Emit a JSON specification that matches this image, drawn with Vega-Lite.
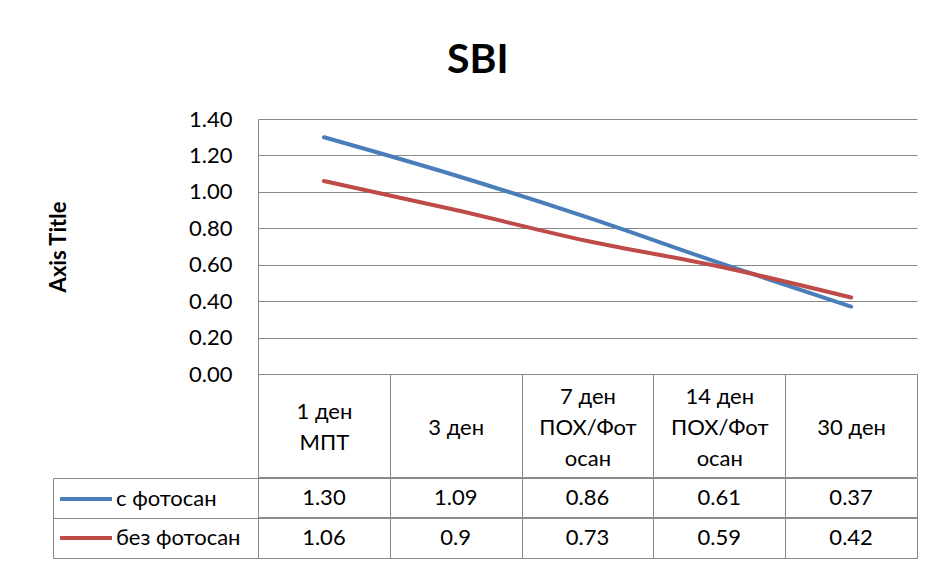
{
  "$schema": "https://vega.github.io/schema/vega-lite/v6.json",
  "padding": {"left": 47, "top": 40, "right": 5, "bottom": 0},
  "background": "white",
  "title": {"text": "SBI", "font": "Lato", "fontSize": 41, "fontWeight": "bold", "color": "#000000", "anchor": "middle", "offset": 26, "dx": -5},
  "datasets": {
    "points": [
      {"category": "1 ден\nМПТ", "series": "с фотосан", "value": 1.30, "label": "1.30"},
      {"category": "3 ден", "series": "с фотосан", "value": 1.09, "label": "1.09"},
      {"category": "7 ден\nПОХ/Фот\nосан", "series": "с фотосан", "value": 0.86, "label": "0.86"},
      {"category": "14 ден\nПОХ/Фот\nосан", "series": "с фотосан", "value": 0.61, "label": "0.61"},
      {"category": "30 ден", "series": "с фотосан", "value": 0.37, "label": "0.37"},
      {"category": "1 ден\nМПТ", "series": "без фотосан", "value": 1.06, "label": "1.06"},
      {"category": "3 ден", "series": "без фотосан", "value": 0.90, "label": "0.9"},
      {"category": "7 ден\nПОХ/Фот\nосан", "series": "без фотосан", "value": 0.73, "label": "0.73"},
      {"category": "14 ден\nПОХ/Фот\nосан", "series": "без фотосан", "value": 0.59, "label": "0.59"},
      {"category": "30 ден", "series": "без фотосан", "value": 0.42, "label": "0.42"}
    ]
  },
  "spacing": -8,
  "resolve": {"legend": {"color": "independent"}},
  "vconcat": [
    {
      "width": 659,
      "height": 255,
      "view": {"stroke": null},
      "data": {"name": "points"},
      "mark": {"type": "line", "strokeWidth": 4, "interpolate": "monotone", "strokeCap": "round"},
      "encoding": {
        "x": {
          "field": "category", "type": "nominal", "bandPosition": 0.5,
          "sort": ["1 ден\nМПТ", "3 ден", "7 ден\nПОХ/Фот\nосан", "14 ден\nПОХ/Фот\nосан", "30 ден"],
          "scale": {"type": "band", "paddingInner": 0, "paddingOuter": 0},
          "axis": {
            "title": null, "domain": true, "domainColor": "#888888", "ticks": true, "tickBand": "extent",
            "tickSize": 103, "tickColor": "#888888", "labelAngle": 0, "labelFontSize": 22, "labelColor": "#000000",
            "labelBaseline": "middle", "labelPadding": -81,
            "labelExpr": "length(split(datum.label, '\\n')) == 1 ? ['\u200b', '\u200b', datum.label] : length(split(datum.label, '\\n')) == 2 ? ['\u200b', split(datum.label, '\\n')[0], '\u200b', split(datum.label, '\\n')[1]] : [split(datum.label, '\\n')[0], '\u200b', split(datum.label, '\\n')[1], '\u200b', split(datum.label, '\\n')[2]]",
            "labelLineHeight": 15.5, "labelOverlap": false, "labelLimit": 300, "grid": false
          }
        },
        "y": {
          "field": "value", "type": "quantitative",
          "scale": {"domain": [0, 1.4], "nice": false, "zero": true},
          "axis": {
            "title": "Axis Title", "values": [0, 0.2, 0.4, 0.6, 0.8, 1.0, 1.2, 1.4], "format": ".2f",
            "grid": true, "gridColor": "#888888", "domain": true, "domainColor": "#888888", "ticks": false,
            "labelPadding": 26, "labelFontSize": 22, "labelColor": "#000000",
            "titleFontSize": 22, "titleFontWeight": "bold", "titleColor": "#000000", "titlePadding": 118
          }
        },
        "color": {
          "field": "series", "type": "nominal",
          "scale": {"domain": ["с фотосан", "без фотосан"], "range": ["#4a7ebb", "#be4b48"]},
          "legend": null
        }
      }
    },
    {
      "width": 659,
      "height": 80,
      "view": {"stroke": "#888888"},
      "data": {"name": "points"},
      "encoding": {
        "y": {
          "field": "series", "type": "nominal", "sort": ["с фотосан", "без фотосан"],
          "scale": {"type": "band", "paddingInner": 0, "paddingOuter": 0},
          "axis": {
            "title": null, "labels": false, "ticks": true, "tickSize": -205, "tickColor": "#888888",
            "tickBand": "extent", "domain": true, "domainColor": "#888888", "offset": 205, "grid": false
          }
        }
      },
      "layer": [
        {
          "mark": {"type": "text", "fontSize": 22, "color": "#000000"},
          "encoding": {
            "x": {
              "field": "category", "type": "nominal",
              "sort": ["1 ден\nМПТ", "3 ден", "7 ден\nПОХ/Фот\nосан", "14 ден\nПОХ/Фот\nосан", "30 ден"],
              "scale": {"type": "band", "paddingInner": 0, "paddingOuter": 0},
              "axis": {"title": null, "labels": false, "ticks": false, "domain": false, "grid": true, "gridColor": "#888888", "tickBand": "extent"}
            },
            "text": {"field": "label"}
          }
        },
        {
          "mark": {"type": "rule", "color": "#888888"},
          "encoding": {
            "y": {"field": "series", "type": "nominal", "sort": ["с фотосан", "без фотосан"], "bandPosition": 0}
          }
        },
        {
          "mark": {"type": "line", "strokeWidth": 4},
          "transform": [{"filter": {"field": "series", "oneOf": []}}],
          "encoding": {
            "x": {
              "field": "category", "type": "nominal",
              "sort": ["1 ден\nМПТ", "3 ден", "7 ден\nПОХ/Фот\nосан", "14 ден\nПОХ/Фот\nосан", "30 ден"],
              "scale": {"type": "band", "paddingInner": 0, "paddingOuter": 0}
            },
            "color": {
              "field": "series", "type": "nominal",
              "scale": {"domain": ["с фотосан", "без фотосан"], "range": ["#4a7ebb", "#be4b48"]},
              "legend": {
                "orient": "none", "legendX": -200, "legendY": -7, "title": null, "direction": "vertical",
                "symbolType": "stroke", "symbolSize": 2704, "symbolStrokeWidth": 4,
                "labelFontSize": 22, "labelColor": "#000000", "labelOffset": 2, "rowPadding": -12,
                "padding": 0, "labelLimit": 300
              }
            }
          }
        }
      ]
    }
  ],
  "config": {"font": "Lato"}
}
